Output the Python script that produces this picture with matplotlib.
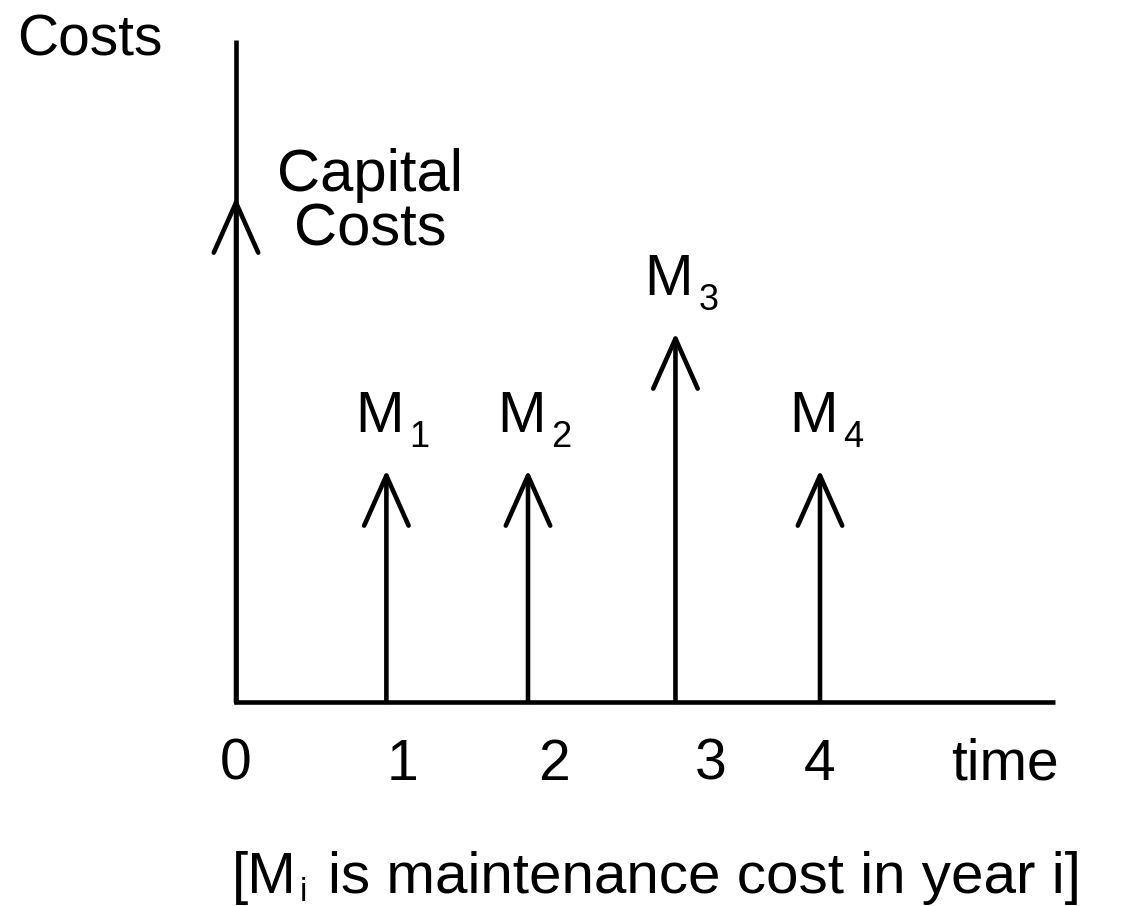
import matplotlib
matplotlib.use("Agg")
import matplotlib.pyplot as plt

plt.rcParams["font.family"] = ["Liberation Sans", "DejaVu Sans"]

# cost arrows: year of payment and relative size
years = [0, 1.03, 2.0, 3.01, 4.0]
costs = [5.05, 2.32, 2.32, 3.69, 2.32]
subscripts = ["", "1", "2", "3", "4"]

# labels under the time axis
tick_pos = [0, 1.14, 2.18, 3.25, 4.0, 5.27]
tick_labels = ["0", "1", "2", "3", "4", "time"]

x_end = 5.61
y_end = 6.62

fig = plt.figure(figsize=(11.23, 9.06), dpi=100)
ax = fig.add_axes([0, 0, 1, 1])
ax.set_xlim(-236 / 146, (1123 - 236) / 146)
ax.set_ylim((702 - 906) / 100, 7.02)
ax.axis("off")

lw = 3.3
# axes
ax.plot([0, 0, x_end], [y_end, 0, 0], color="black", lw=lw,
        solid_joinstyle="miter", solid_capstyle="butt")

# cost arrows
for x, c in zip(years, costs):
    ax.annotate("", xy=(x, c), xytext=(x, 0),
                arrowprops=dict(arrowstyle="->, head_length=3.6, head_width=1.6",
                                lw=lw, color="black", shrinkA=0, shrinkB=0,
                                mutation_scale=10))

# labels on the arrows
for x, c, s in zip(years[1:], costs[1:], subscripts[1:]):
    ax.text(x + 0.12, c + 0.38, "M", fontsize=42, ha="right", va="baseline")
    ax.text(x + 0.16, c + 0.23, s, fontsize=26, ha="left", va="baseline")

ax.text(years[0] + 0.92, costs[0] - 0.06, "Capital\nCosts", fontsize=43,
        ha="center", va="center", linespacing=1.0)

ax.text(-1.0, 6.61, "Costs", fontsize=41, ha="center", va="center")

for p, t in zip(tick_pos, tick_labels):
    ax.text(p, -0.63, t, fontsize=41, ha="center", va="center")

# footnote
ax.text(-0.03, -1.91, "[M", fontsize=42, ha="left", va="baseline")
ax.text(0.44, -1.99, "i", fontsize=24, ha="left", va="baseline")
ax.text(0.63, -1.91, "is maintenance cost in year i]", fontsize=42,
        ha="left", va="baseline")

fig.savefig("out.png", dpi=100)
